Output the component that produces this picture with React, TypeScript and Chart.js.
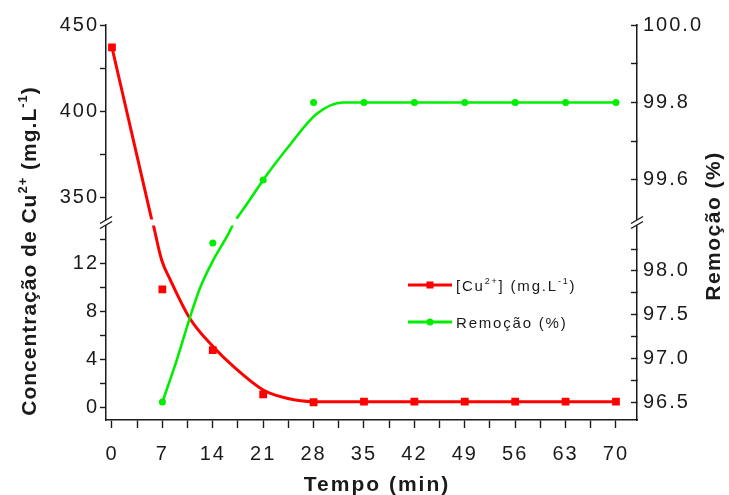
import React, { useEffect, useRef } from 'react';
import { Chart, registerables } from 'chart.js';

Chart.register(...registerables);

// ---------- data ----------
const sampleTimes = [0, 7, 14, 21, 28, 35, 42, 49, 56, 63, 70];
const copperConc = [437, 9.8, 4.75, 1.06, 0.4, 0.45, 0.45, 0.45, 0.45, 0.45, 0.45];
const removalPct = [null, 96.5, 98.32, 99.6, 99.8, 99.8, 99.8, 99.8, 99.8, 99.8, 99.8];

// fitted curves (knots)
const concFitTimes = [0, 5.6, 5.7, 6.9, 8.1, 10.8, 14.1, 16.9, 21, 24.3, 28, 35, 70];
const concFitValues = [437, 336, 15.3, 12.25, 10.6, 7.4, 5.0, 3.36, 1.42, 0.73, 0.45, 0.45, 0.45];
const removalFitTimes = [7, 9, 10.8, 12.2, 14.1, 16.2, 16.9, 17.3, 19.2, 21, 24.7, 28.4, 32.1, 36, 70];
const removalFitValues = [96.5, 96.98, 97.46, 97.8, 98.13, 98.43, 98.55, 99.5, 99.55, 99.6, 99.69, 99.77, 99.8, 99.8, 99.8];

// ticks
const xMajorTicks = [0, 7, 14, 21, 28, 35, 42, 49, 56, 63, 70];
const xMinorTicks = [3.5, 10.5, 17.5, 24.5, 31.5, 38.5, 45.5, 52.5, 59.5, 66.5];
const concUpperMajor = [350, 400, 450];
const concUpperMinor = [375, 425];
const concLowerMajor = [0, 4, 8, 12];
const concLowerMinor = [2, 6, 10, 14];
const removalUpperMajor = [99.6, 99.8, 100.0];
const removalUpperMinor = [99.7, 99.9];
const removalLowerMajor = [96.5, 97.0, 97.5, 98.0];
const removalLowerMinor = [96.75, 97.25, 97.75, 98.25];

const CONC_BREAK = 100;
const REMOVAL_BREAK = 99;

const RED = '#ff0000';
const GREEN = '#00ee00';
const INK = '#1a1a1a';
const FONT = '"Liberation Sans", Arial, Helvetica, sans-serif';

type Seg = { text: string; sup?: boolean };

function drawRich(ctx: any, segs: Seg[], x: number, y: number, size: number, bold: boolean, spacing: number, align: 'left' | 'center') {
  const w = bold ? 'bold ' : '';
  const main = `${w}${size}px ${FONT}`;
  const sup = `${w}${Math.round(size * 0.6)}px ${FONT}`;
  ctx.letterSpacing = `${spacing}px`;
  ctx.textBaseline = 'alphabetic';
  ctx.textAlign = 'left';
  const widths = segs.map((s) => {
    ctx.font = s.sup ? sup : main;
    return ctx.measureText(s.text).width;
  });
  const total = widths.reduce((a, b) => a + b, 0);
  let cx = align === 'center' ? x - total / 2 : x;
  segs.forEach((s, i) => {
    ctx.font = s.sup ? sup : main;
    ctx.fillText(s.text, cx, s.sup ? y - size * 0.42 : y);
    cx += widths[i];
  });
}

const spacingPlugin = {
  id: 'tickSpacing',
  beforeLayout(chart: any) { chart.ctx.letterSpacing = '2px'; },
  beforeDraw(chart: any) { chart.ctx.letterSpacing = '2px'; },
};

const decorPlugin = {
  id: 'decor',
  afterDraw(chart: any) {
    const ctx = chart.ctx;
    const a = chart.chartArea;
    const yb = chart.scales.yTop.bottom;
    ctx.save();
    // break band
    ctx.fillStyle = '#ffffff';
    ctx.fillRect(a.left + 1, yb - 3, a.right - a.left - 2, 6);
    // axis breaks
    ctx.strokeStyle = INK;
    ctx.lineWidth = 1.4;
    [a.left, a.right].forEach((x: number) => {
      ctx.fillStyle = '#ffffff';
      ctx.fillRect(x - 3, yb - 2.5, 6, 5);
      [yb - 2.5, yb + 2.5].forEach((yy: number) => {
        ctx.beginPath();
        ctx.moveTo(x - 6, yy + 3.5);
        ctx.lineTo(x + 6, yy - 3.5);
        ctx.stroke();
      });
    });

    ctx.fillStyle = INK;
    // axis titles
    ctx.save();
    ctx.translate(36, 251);
    ctx.rotate(-Math.PI / 2);
    drawRich(ctx, [
      { text: 'Concentração de Cu' }, { text: '2+', sup: true },
      { text: ' (mg.L' }, { text: '-1', sup: true }, { text: ')' },
    ], 0, 0, 21, true, 1, 'center');
    ctx.restore();

    ctx.save();
    ctx.translate(720, 226);
    ctx.rotate(-Math.PI / 2);
    drawRich(ctx, [{ text: 'Remoção (%)' }], 0, 0, 21, true, 1.5, 'center');
    ctx.restore();

    drawRich(ctx, [{ text: 'Tempo (min)' }], 377, 491, 21, true, 2, 'center');

    // legend
    const lx1 = 408, lx2 = 452, lm = 430;
    const rows = [
      { y: 285, color: RED, square: true, segs: [
        { text: '[Cu' }, { text: '2+', sup: true }, { text: '] (mg.L' }, { text: '-1', sup: true }, { text: ')' },
      ] },
      { y: 322, color: GREEN, square: false, segs: [{ text: 'Remoção (%)' }] },
    ];
    rows.forEach((r) => {
      ctx.strokeStyle = r.color;
      ctx.fillStyle = r.color;
      ctx.lineWidth = 3;
      ctx.beginPath();
      ctx.moveTo(lx1, r.y);
      ctx.lineTo(lx2, r.y);
      ctx.stroke();
      ctx.beginPath();
      if (r.square) ctx.rect(lm - 3.5, r.y - 3.5, 7, 7);
      else ctx.arc(lm, r.y, 3.5, 0, Math.PI * 2);
      ctx.fill();
      ctx.fillStyle = INK;
      drawRich(ctx, r.segs, 456, r.y + 5.5, 15, false, 1.8, 'left');
    });
    ctx.restore();
  },
};

function pts(times: number[], vals: (number | null)[], keep: (v: number) => boolean) {
  return times
    .map((t, i) => ({ x: t, y: vals[i] }))
    .filter((p) => p.y !== null && keep(p.y as number));
}

function yScale(position: string, stack: string, min: number, max: number, major: number[], minor: number[],
  fmt: (v: number) => string, tickLen: number, pad: number, width: number) {
  const all = [...major, ...minor].sort((p, q) => p - q);
  return {
    type: 'linear', position, stack, stackWeight: 1, min, max,
    afterBuildTicks: (s: any) => { s.ticks = all.map((v) => ({ value: v })); },
    afterFit: (s: any) => { s.width = width; },
    ticks: {
      autoSkip: false, padding: pad, color: INK,
      font: { family: FONT, size: 20 },
      callback: (v: number) => (major.includes(v) ? fmt(v) : ''),
    },
    grid: { drawOnChartArea: false, tickLength: tickLen, tickWidth: 1.4, tickColor: INK },
    border: { display: true, color: INK, width: 1.5 },
  };
}

export default function App() {
  const ref = useRef<HTMLCanvasElement | null>(null);
  useEffect(() => {
    if (!ref.current) return;
    const line = (data: any[], yAxisID: string, color: string, w: number) => ({
      data, yAxisID, showLine: true, borderColor: color, borderWidth: w, pointRadius: 0,
      cubicInterpolationMode: 'monotone', fill: false,
    });
    const marks = (data: any[], yAxisID: string, color: string, style: string, r: number) => ({
      data, yAxisID, showLine: false, pointStyle: style, pointRadius: r,
      backgroundColor: color, borderColor: color, borderWidth: 0,
    });
    const chart = new Chart(ref.current, {
      type: 'scatter',
      data: {
        datasets: [
          marks(pts(sampleTimes, copperConc, (v) => v > CONC_BREAK), 'yTop', RED, 'rect', 5.5),
          marks(pts(sampleTimes, copperConc, (v) => v <= CONC_BREAK), 'yBot', RED, 'rect', 5.5),
          marks(pts(sampleTimes, removalPct, (v) => v > REMOVAL_BREAK), 'rTop', GREEN, 'circle', 3.5),
          marks(pts(sampleTimes, removalPct, (v) => v <= REMOVAL_BREAK), 'rBot', GREEN, 'circle', 3.5),
          line(pts(removalFitTimes, removalFitValues, (v) => v > REMOVAL_BREAK), 'rTop', GREEN, 2.6),
          line(pts(removalFitTimes, removalFitValues, (v) => v <= REMOVAL_BREAK), 'rBot', GREEN, 2.6),
          line(pts(concFitTimes, concFitValues, (v) => v > CONC_BREAK), 'yTop', RED, 3),
          line(pts(concFitTimes, concFitValues, (v) => v <= CONC_BREAK), 'yBot', RED, 3),
        ] as any,
      },
      options: {
        responsive: false,
        animation: false,
        devicePixelRatio: 1,
        layout: { padding: { top: 25, left: 0, right: 0, bottom: 0 } },
        plugins: { legend: { display: false }, tooltip: { enabled: false } },
        scales: {
          x: {
            type: 'linear', position: 'bottom', min: -0.83, max: 72.92,
            afterBuildTicks: (s: any) => {
              s.ticks = [...xMajorTicks, ...xMinorTicks].sort((p, q) => p - q).map((v) => ({ value: v }));
            },
            afterFit: (s: any) => { s.height = 75; },
            ticks: {
              autoSkip: false, maxRotation: 0, padding: 14, color: INK,
              font: { family: FONT, size: 20 },
              callback: (v: number) => (xMajorTicks.includes(v) ? String(v) : ''),
            },
            grid: { drawOnChartArea: false, tickLength: 8, tickWidth: 1.4, tickColor: INK },
            border: { display: true, color: INK, width: 1.5 },
          },
          yBot: yScale('left', 'left', -1.08, 15.375, concLowerMajor, concLowerMinor, (v) => String(v), 6, 1, 106),
          yTop: yScale('left', 'left', 335.8, 450, concUpperMajor, concUpperMinor, (v) => String(v), 6, 1, 106),
          rTop: yScale('right', 'right', 99.49, 100, removalUpperMajor, removalUpperMinor, (v) => v.toFixed(1), -6, 12, 92),
          rBot: yScale('right', 'right', 96.294, 98.555, removalLowerMajor, removalLowerMinor, (v) => v.toFixed(1), -6, 12, 92),
        } as any,
      },
      plugins: [spacingPlugin, decorPlugin],
    } as any);
    return () => chart.destroy();
  }, []);
  return (
    <div style={{ position: 'absolute', left: 0, top: 0, width: 729, height: 495, background: '#fff' }}>
      <canvas ref={ref} width={729} height={495} />
    </div>
  );
}
